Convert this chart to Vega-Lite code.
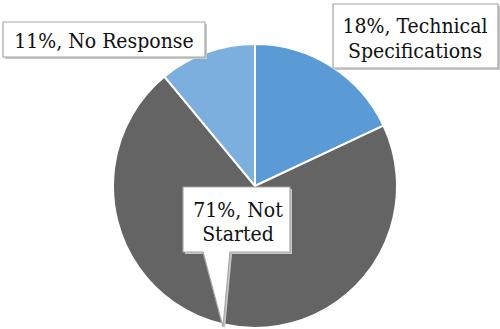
{
  "$schema": "https://vega.github.io/schema/vega-lite/v6.json",
  "width": 490,
  "height": 286,
  "autosize": {"type": "none"},
  "padding": {"left": 10, "top": 43, "right": 0, "bottom": 0},
  "background": "white",
  "config": {"view": {"stroke": null}},
  "data": {
    "values": [
      {"category": "Technical Specifications", "value": 18, "ord": 1, "label": "18%, Technical\nSpecifications"},
      {"category": "Not Started", "value": 71, "ord": 2, "label": "71%, Not\nStarted"},
      {"category": "No Response", "value": 11, "ord": 3, "label": "11%, No Response"}
    ]
  },
  "layer": [
    {
      "mark": {"type": "arc", "outerRadius": 142, "stroke": "white", "strokeWidth": 2},
      "encoding": {
        "theta": {"field": "value", "type": "quantitative", "stack": true},
        "order": {"field": "ord", "type": "quantitative"},
        "color": {
          "field": "category",
          "type": "nominal",
          "scale": {"domain": ["Technical Specifications", "Not Started", "No Response"], "range": ["#5b9bd5", "#646464", "#7cafdd"]},
          "legend": null
        }
      }
    },
    {
      "transform": [{"filter": "datum.category === 'Technical Specifications'"}],
      "layer": [
        {"mark": {"type": "point", "filled": true, "opacity": 1, "size": 4, "fill": "#c8c8c8", "strokeWidth": 0, "shape": "M80,-180H245V-116H80Z"}, "encoding": {}},
        {"mark": {"type": "point", "filled": true, "opacity": 1, "size": 4, "fill": "white", "stroke": "#a6a6a6", "strokeWidth": 1.2, "shape": "M78,-182H243V-118H78Z"}, "encoding": {}},
        {"mark": {"type": "text", "font": "DejaVu Serif Condensed", "fontSize": 21, "color": "#111111", "align": "center", "baseline": "alphabetic", "lineBreak": "\n", "lineHeight": 25, "dx": 160, "dy": -153}, "encoding": {"text": {"field": "label"}}}
      ]
    },
    {
      "transform": [{"filter": "datum.category === 'No Response'"}],
      "layer": [
        {"mark": {"type": "point", "filled": true, "opacity": 1, "size": 4, "fill": "#c8c8c8", "strokeWidth": 0, "shape": "M-250,-162H-48V-127H-250Z"}, "encoding": {}},
        {"mark": {"type": "point", "filled": true, "opacity": 1, "size": 4, "fill": "white", "stroke": "#a6a6a6", "strokeWidth": 1.2, "shape": "M-252,-164H-50V-129H-252Z"}, "encoding": {}},
        {"mark": {"type": "text", "font": "DejaVu Serif Condensed", "fontSize": 21, "color": "#111111", "align": "center", "baseline": "alphabetic", "dx": -151, "dy": -138}, "encoding": {"text": {"field": "label"}}}
      ]
    },
    {
      "transform": [{"filter": "datum.category === 'Not Started'"}],
      "layer": [
        {"mark": {"type": "point", "filled": true, "opacity": 1, "size": 4, "fill": "#c8c8c8", "strokeWidth": 0, "shape": "M-70,3H37V68H-23L-30,143L-50,68H-70Z"}, "encoding": {}},
        {"mark": {"type": "point", "filled": true, "opacity": 1, "size": 4, "fill": "white", "stroke": "#a6a6a6", "strokeWidth": 1.2, "shape": "M-72,1H35V66H-25L-32,141L-52,66H-72Z"}, "encoding": {}},
        {"mark": {"type": "text", "font": "DejaVu Serif Condensed", "fontSize": 21, "color": "#111111", "align": "center", "baseline": "alphabetic", "lineBreak": "\n", "lineHeight": 24, "dx": -17, "dy": 31}, "encoding": {"text": {"field": "label"}}}
      ]
    }
  ]
}
